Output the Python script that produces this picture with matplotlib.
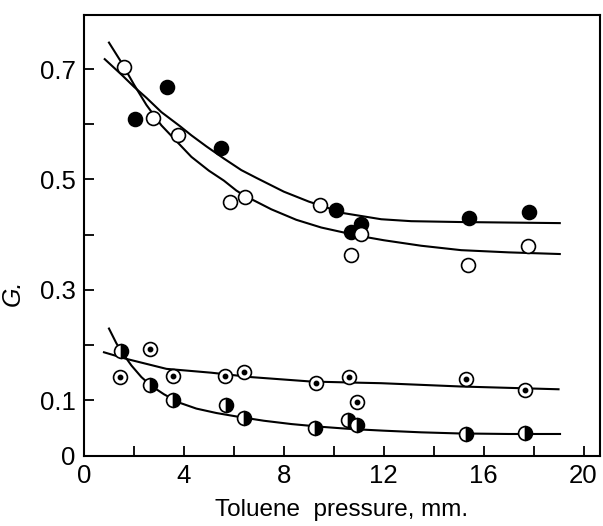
import matplotlib
matplotlib.use('Agg')
import matplotlib.pyplot as plt

plt.rcParams['font.family'] = ['Liberation Sans', 'DejaVu Sans']

# filled circles
x_fill = [2.05, 3.32, 5.47, 10.09, 10.68, 11.08, 15.40, 17.83]
y_fill = [0.609, 0.667, 0.557, 0.445, 0.405, 0.419, 0.430, 0.442]
# open circles
x_open = [1.62, 2.78, 3.78, 5.83, 6.45, 9.45, 10.69, 11.11, 15.39, 17.77]
y_open = [0.704, 0.612, 0.580, 0.460, 0.468, 0.454, 0.363, 0.401, 0.345, 0.380]
# dotted circles
x_dot = [1.46, 2.66, 3.58, 5.66, 6.42, 9.30, 10.63, 10.93, 15.30, 17.66]
y_dot = [0.1416, 0.193, 0.144, 0.144, 0.152, 0.132, 0.1417, 0.097, 0.138, 0.1187]
# half filled circles
x_half = [1.49, 2.64, 3.57, 5.70, 6.41, 9.25, 10.58, 10.95, 15.28, 17.67]
y_half = [0.190, 0.127, 0.1005, 0.091, 0.0672, 0.0490, 0.0650, 0.0555, 0.0384, 0.0400]

# curves
cx_fill = [0.83, 1.5, 2.0, 2.5, 3.1, 3.86, 4.3, 4.9, 5.6, 6.3, 6.9, 8.0, 9.0, 10.4, 11.9, 13.1, 15.0, 17.0, 19.05]
cy_fill = [0.718, 0.690, 0.668, 0.648, 0.622, 0.596, 0.580, 0.560, 0.538, 0.517, 0.503, 0.478, 0.460, 0.439, 0.428, 0.4245, 0.423, 0.422, 0.421]
cx_open = [1.0, 1.5, 2.0, 2.5, 3.1, 3.9, 4.3, 5.0, 5.6, 6.1, 6.45, 6.85, 7.5, 8.5, 9.5, 10.4, 11.25, 12.0, 13.5, 15.1, 17.0, 19.05]
cy_open = [0.748, 0.712, 0.672, 0.635, 0.598, 0.560, 0.541, 0.516, 0.498, 0.480, 0.470, 0.461, 0.446, 0.427, 0.413, 0.404, 0.396, 0.390, 0.380, 0.372, 0.368, 0.365]
cx_dot = [0.8, 1.7, 3.3, 5.1, 6.7, 9.1, 10.9, 11.9, 15.1, 19.0]
cy_dot = [0.187, 0.175, 0.157, 0.150, 0.142, 0.134, 0.132, 0.131, 0.125, 0.120]
cx_half = [1.0, 1.3, 1.6, 1.9, 2.3, 2.7, 3.2, 3.8, 4.5, 5.3, 6.2, 7.2, 8.3, 9.5, 10.7, 12.0, 13.5, 15.0, 17.0, 19.06]
cy_half = [0.230, 0.203, 0.182, 0.163, 0.142, 0.126, 0.111, 0.096, 0.085, 0.077, 0.070, 0.063, 0.057, 0.052, 0.048, 0.045, 0.042, 0.040, 0.039, 0.039]

fig = plt.figure(figsize=(6.03, 5.26), dpi=100)
ax = fig.add_axes([0.1393, 0.134, 0.8557, 0.8375])

lw = 1.5
for cx, cy in [(cx_fill, cy_fill), (cx_open, cy_open), (cx_dot, cy_dot), (cx_half, cy_half)]:
    ax.plot(cx, cy, color='black', lw=lw, zorder=2)

ms = 10
ax.plot(x_fill, y_fill, 'o', ms=ms, mfc='black', mec='black', mew=1.2, zorder=3)
ax.plot(x_open, y_open, 'o', ms=ms, mfc='white', mec='black', mew=1.2, zorder=3)
ax.plot(x_dot, y_dot, 'o', ms=ms, mfc='white', mec='black', mew=1.2, zorder=3)
ax.plot(x_dot, y_dot, 'o', ms=3.2, mfc='black', mec='black', zorder=4)
ax.plot(x_half, y_half, 'o', ms=ms, fillstyle='right', mfc='black', markerfacecoloralt='white',
        mec='black', mew=1.2, zorder=3)

ax.set_xlim(0.1, 20.66)
ax.set_ylim(0, 0.798)

ax.set_xticks([0, 2, 4, 6, 8, 10, 12, 14, 16, 18, 20])
ax.set_xticklabels(['0', '', '4', '', '8', '', '12', '', '16', '', '20'])
ax.set_yticks([0, 0.1, 0.2, 0.3, 0.4, 0.5, 0.6, 0.7])
ax.set_yticklabels(['0', '0.1', '', '0.3', '', '0.5', '', '0.7'])
ax.tick_params(direction='in', length=7, width=1.3, labelsize=18.5, pad=6)

for s in ax.spines.values():
    s.set_linewidth(1.5)

ax.set_xlabel('Toluene  pressure, mm.', fontsize=17.5, labelpad=8)
ax.set_ylabel('G.', fontsize=18, style='italic')
ax.yaxis.set_label_coords(-0.115, 0.37)

fig.savefig('out.png', dpi=100)
